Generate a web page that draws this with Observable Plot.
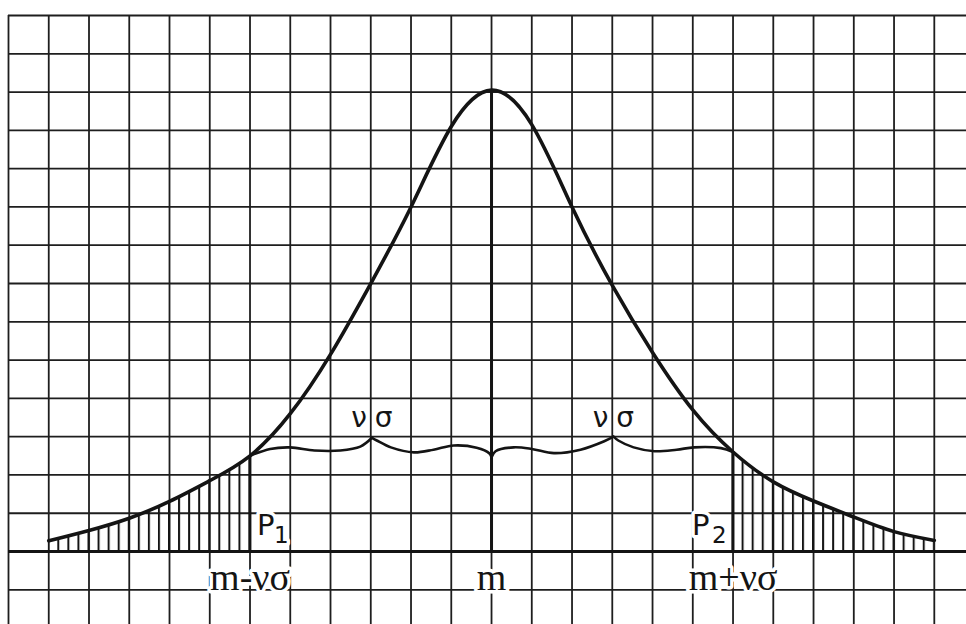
<!DOCTYPE html>
<html>
<head>
<meta charset="utf-8">
<script src="https://cdn.jsdelivr.net/npm/d3@7"></script>
<script src="https://cdn.jsdelivr.net/npm/@observablehq/plot@0.6"></script>
<style>
  html, body { margin: 0; padding: 0; background: #fff; }
  #chart svg { display: block; }
</style>
</head>
<body>
<div id="chart"></div>
<script>
// Bell curve on squared paper; one unit = one square of the grid, m at x = 0.
const curveX = [-11, -10, -9, -8, -7, -6, -5, -4, -3, -2, -1, 0, 1, 2, 3, 4, 5, 6, 7, 8, 9, 10, 11];
const curveY = [0.28, 0.55, 0.87, 1.31, 1.85, 2.5, 3.6, 5.15, 7.0, 9.0, 11.1, 12.05, 11.15, 9.0, 6.95, 5.2, 3.7, 2.6, 1.82, 1.32, 0.9, 0.52, 0.29];

// Shaded tails P1 and P2: from the curve's ends to m ∓ νσ
const tailFrom = [-11, 6];
const tailTo = [-6, 11];
const kSigma = 6;

// Grid lines of the squared paper
const gridCols = d3.range(-12, 12);
const gridRows = d3.range(-1, 15);

// The two curly braces spanning νσ on each side of m (four strokes, cusps between them)
const braceX = [
  -6.0, -5.5, -5.0, -4.4, -3.76, -3.26, -2.97,
  -2.97, -2.85, -2.5, -1.93, -1.44, -0.94, -0.37, -0.05, 0,
  0, 0.1, 0.55, 1.0, 1.55, 2.21, 2.8, 3.03,
  3.03, 3.15, 3.53, 4.05, 4.6, 5.03, 5.7, 6.0
];
const braceY = [
  2.50, 2.68, 2.72, 2.64, 2.64, 2.74, 2.97,
  2.97, 2.90, 2.72, 2.59, 2.66, 2.77, 2.71, 2.56, 2.46,
  2.46, 2.62, 2.72, 2.68, 2.57, 2.66, 2.88, 3.0,
  3.0, 2.9, 2.72, 2.62, 2.66, 2.72, 2.70, 2.6
];
const braceSeg = [
  "a", "a", "a", "a", "a", "a", "a",
  "b", "b", "b", "b", "b", "b", "b", "b", "b",
  "c", "c", "c", "c", "c", "c", "c", "c",
  "d", "d", "d", "d", "d", "d", "d", "d"
];

// Labels
const axisLabels = ["m-νσ", "m", "m+νσ"];
const axisLabelX = [-kSigma, 0, kSigma];
const braceLabelX = [-3, 3];
const tailLabels = ["P", "P"];
const tailSubscripts = ["1", "2"];

const ink = "#141414";
const gridInk = "#1e1e1e";
const yAt = (v) => curveY[curveX.indexOf(v)];
const halo = { stroke: "white", strokeWidth: 7, paintOrder: "stroke" };

const plot = Plot.plot({
  width: 966,
  height: 624,
  marginLeft: 8,
  marginRight: 0,
  marginTop: 15,
  marginBottom: 0,
  style: { background: "white" },
  x: { domain: [-12, 11.8], axis: null },
  y: { domain: [-1.906, 14], axis: null },
  marks: [
    // squared paper
    Plot.ruleX(gridCols, { stroke: gridInk, strokeWidth: 1.8 }),
    Plot.ruleY(gridRows, { stroke: gridInk, strokeWidth: 1.8 }),
    // area under the curve, hatched and clipped to the tails below
    Plot.areaY(curveY, { x: curveX, y: curveY, curve: "natural", fill: ink }),
    // base line
    Plot.ruleY([0], { stroke: ink, strokeWidth: 3 }),
    // mean
    Plot.ruleX([0], { y1: 0, y2: yAt(0), stroke: ink, strokeWidth: 3 }),
    // borders of the tails at m ∓ νσ
    Plot.ruleX([-kSigma, kSigma], { y1: 0, y2: (d) => yAt(d), stroke: ink, strokeWidth: 2.8 }),
    // the curve
    Plot.line(curveY, { x: curveX, y: curveY, curve: "natural", stroke: ink, strokeWidth: 3.6 }),
    // braces
    Plot.line(braceY, { x: braceX, y: braceY, z: braceSeg, curve: "catmull-rom", stroke: ink, strokeWidth: 2.6 }),
    // νσ above each brace
    Plot.text(braceLabelX, { x: (d) => d, y: 3.24, text: () => "ν", textAnchor: "end", lineAnchor: "bottom", dx: -4, fontFamily: "DejaVu Sans", fontSize: 28, fill: ink }),
    Plot.text(braceLabelX, { x: (d) => d, y: 3.24, text: () => "σ", textAnchor: "start", lineAnchor: "bottom", dx: 4, fontFamily: "DejaVu Sans", fontSize: 28, fill: ink }),
    // P1 right of m - νσ
    Plot.text([tailLabels[0]], { x: -kSigma, y: 0.42, text: (d) => d, textAnchor: "start", lineAnchor: "bottom", dx: 7, fontFamily: "DejaVu Sans", fontSize: 29, fill: ink, ...halo }),
    Plot.text([tailSubscripts[0]], { x: -kSigma, y: 0.235, text: (d) => d, textAnchor: "start", lineAnchor: "bottom", dx: 24, fontFamily: "DejaVu Sans", fontSize: 23, fill: ink, ...halo }),
    // P2 left of m + νσ
    Plot.text([tailLabels[1]], { x: kSigma, y: 0.42, text: (d) => d, textAnchor: "start", lineAnchor: "bottom", dx: -41, fontFamily: "DejaVu Sans", fontSize: 29, fill: ink, ...halo }),
    Plot.text([tailSubscripts[1]], { x: kSigma, y: 0.235, text: (d) => d, textAnchor: "start", lineAnchor: "bottom", dx: -21, fontFamily: "DejaVu Sans", fontSize: 23, fill: ink, ...halo }),
    // m - νσ, m, m + νσ
    Plot.text(axisLabels, { x: axisLabelX, y: -1.0, text: (d) => d, lineAnchor: "bottom", fontFamily: "Liberation Serif", fontSize: 38, fill: ink, ...halo })
  ]
});

// Hatching: vertical strokes every quarter square, kept only inside the tails.
const svg = d3.select(plot);
const sx = plot.scale("x");
const X = (v) => sx.apply(v);
const step = (X(1) - X(0)) / 4;
const defs = svg.insert("defs", ":first-child");
const pattern = defs.append("pattern")
  .attr("id", "hatch")
  .attr("patternUnits", "userSpaceOnUse")
  .attr("x", X(tailFrom[0]) - 1)
  .attr("y", 0)
  .attr("width", step)
  .attr("height", 624);
pattern.append("rect").attr("x", 0).attr("y", 0).attr("width", 2).attr("height", 624).attr("fill", ink);
const clip = defs.append("clipPath").attr("id", "tail-clip");
tailFrom.forEach((a, i) => {
  clip.append("rect")
    .attr("x", X(a) - 1.5)
    .attr("y", 0)
    .attr("width", X(tailTo[i]) - X(a) + 3)
    .attr("height", 624);
});
svg.selectAll('g[aria-label="area"]')
  .attr("clip-path", "url(#tail-clip)")
  .attr("fill", "url(#hatch)")
  .selectAll("path").attr("fill", "url(#hatch)");
svg.selectAll("text").attr("paint-order", "stroke");

document.getElementById("chart").append(plot);
</script>
</body>
</html>
